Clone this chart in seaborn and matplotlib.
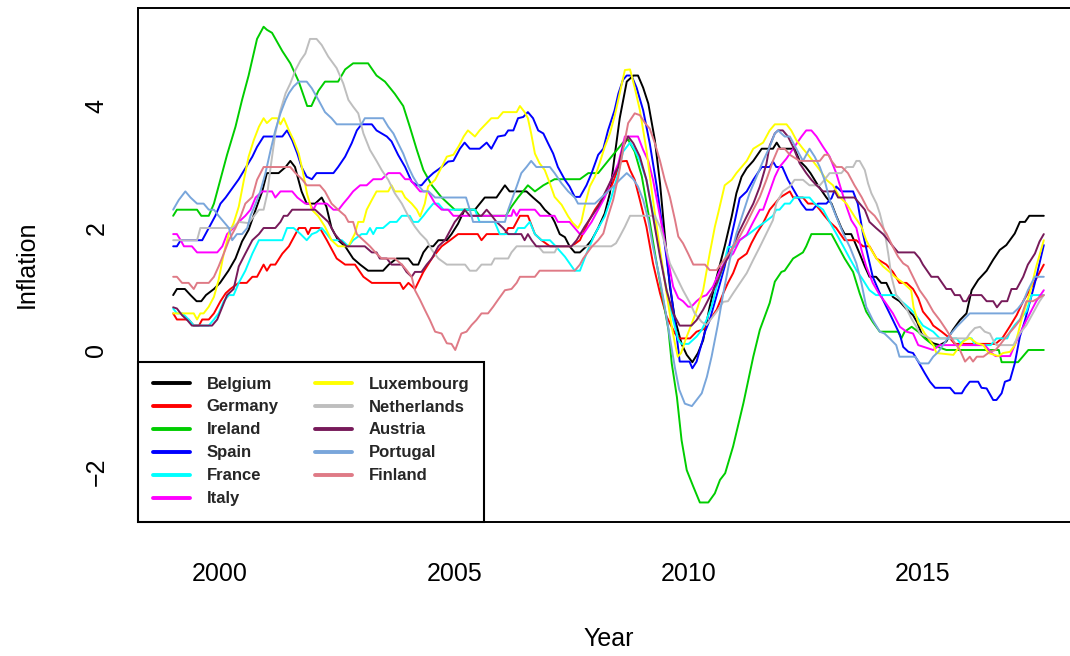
import numpy as np
import pandas as pd
import matplotlib
matplotlib.use("Agg")
import matplotlib.pyplot as plt
from matplotlib.lines import Line2D
import seaborn as sns

# ---- 12-month average HICP inflation, euro-area founding members ----
countries = ["Belgium", "Germany", "Ireland", "Spain", "France", "Italy",
             "Luxembourg", "Netherlands", "Austria", "Portugal", "Finland"]
colours = ["#000000", "#FF0000", "#00CD00", "#0000FF", "#00FFFF", "#FF00FF",
           "#FFFF00", "#BEBEBE", "#771A5A", "#79A6DB", "#DF7A86"]

x_ticks = [2000, 2005, 2010, 2015]
y_ticks = [-2, 0, 2, 4]

belgium = [(1999.0,0.9),(1999.08,1.0),(1999.25,1.0),(1999.37,0.9),(1999.5,0.8),(1999.6,0.8),(1999.7,0.9),
    (1999.87,1.0),(2000.0,1.1),(2000.18,1.3),(2000.33,1.5),(2000.47,1.78),(2000.61,1.97),(2000.76,2.3),
    (2000.9,2.6),(2001.0,2.9),(2001.25,2.9),(2001.4,3.0),(2001.5,3.1),(2001.6,3.0),(2001.74,2.6),
    (2001.85,2.4),(2002.03,2.4),(2002.17,2.5),(2002.27,2.35),(2002.38,2.0),(2002.52,1.8),(2002.67,1.7),
    (2002.84,1.5),(2002.99,1.4),(2003.16,1.3),(2003.48,1.3),(2003.6,1.4),(2003.77,1.5),(2004.02,1.5),
    (2004.12,1.4),(2004.23,1.4),(2004.34,1.6),(2004.44,1.7),(2004.55,1.7),(2004.66,1.8),(2004.84,1.8),
    (2004.94,1.9),(2005.08,2.07),(2005.22,2.3),(2005.44,2.3),(2005.65,2.5),(2005.9,2.5),(2006.08,2.7),
    (2006.18,2.6),(2006.54,2.6),(2006.68,2.5),(2006.83,2.4),(2006.93,2.3),(2007.07,2.2),(2007.14,2.1),
    (2007.25,1.9),(2007.36,1.85),(2007.46,1.7),(2007.57,1.6),(2007.68,1.6),(2007.82,1.7),(2007.93,1.8),
    (2008.07,2.0),(2008.21,2.24),(2008.32,2.57),(2008.42,3.17),(2008.53,3.8),(2008.68,4.4),(2008.82,4.5),
    (2008.92,4.5),(2009.03,4.3),(2009.14,4.04),(2009.28,3.44),(2009.39,2.73),(2009.49,1.9),(2009.6,1.04),
    (2009.71,0.5),(2009.85,0.1),(2009.96,-0.08),(2010.08,-0.2),(2010.2,-0.05),(2010.31,0.16),(2010.45,0.71),
    (2010.6,1.2),(2010.77,1.7),(2010.92,2.19),(2011.02,2.57),(2011.13,2.84),(2011.24,2.98),(2011.38,3.1),
    (2011.56,3.3),(2011.8,3.3),(2011.88,3.4),(2011.96,3.3),(2012.26,3.3),(2012.37,3.1),(2012.5,3.0),
    (2012.6,2.9),(2012.76,2.7),(2012.94,2.5),(2013.05,2.4),(2013.15,2.2),(2013.26,2.0),(2013.33,1.9),
    (2013.47,1.9),(2013.54,1.78),(2013.65,1.58),(2013.76,1.37),(2013.86,1.2),(2014.0,1.2),(2014.11,1.1),
    (2014.22,1.1),(2014.36,0.87),(2014.5,0.8),(2014.64,0.68),(2014.79,0.57),(2014.88,0.45),(2014.97,0.27),
    (2015.08,0.19),(2015.22,0.11),(2015.36,0.08),(2015.5,0.14),(2015.64,0.33),(2015.79,0.49),(2015.93,0.6),
    (2016.04,0.98),(2016.18,1.15),(2016.36,1.3),(2016.5,1.48),(2016.64,1.64),(2016.78,1.72),(2016.96,1.91),
    (2017.07,2.1),(2017.18,2.1),(2017.27,2.2),(2017.58,2.2)]

germany = [(1999.0,0.6),(1999.08,0.5),(1999.33,0.5),(1999.44,0.4),(1999.55,0.4),(1999.62,0.5),(1999.76,0.5),
    (1999.87,0.6),(2000.01,0.8),(2000.12,0.93),(2000.22,1.0),(2000.4,1.1),(2000.57,1.1),(2000.69,1.2),
    (2000.79,1.2),(2000.93,1.4),(2001.0,1.3),(2001.08,1.4),(2001.18,1.4),(2001.33,1.58),(2001.47,1.7),
    (2001.61,1.9),(2001.68,2.0),(2001.82,2.0),(2001.88,1.9),(2001.94,2.0),(2002.13,2.0),(2002.28,1.8),
    (2002.49,1.5),(2002.67,1.4),(2002.88,1.4),(2003.06,1.2),(2003.24,1.1),(2003.84,1.1),(2003.91,1.0),
    (2004.02,1.1),(2004.16,1.0),(2004.34,1.28),(2004.52,1.5),(2004.73,1.7),(2004.91,1.8),(2005.08,1.9),
    (2005.5,1.9),(2005.58,1.8),(2005.69,1.9),(2006.08,1.9),(2006.15,2.0),(2006.26,2.0),(2006.33,2.1),
    (2006.4,2.2),(2006.57,2.2),(2006.72,1.9),(2006.86,1.8),(2007.04,1.7),(2007.5,1.7),(2007.68,1.8),
    (2007.86,2.1),(2008.0,2.3),(2008.18,2.5),(2008.35,2.68),(2008.46,2.9),(2008.53,3.09),(2008.68,3.1),
    (2008.75,2.95),(2008.85,2.79),(2008.96,2.46),(2009.1,2.02),(2009.24,1.42),(2009.39,0.93),(2009.53,0.55),
    (2009.71,0.27),(2009.8,0.19),(2010.03,0.19),(2010.17,0.3),(2010.35,0.35),(2010.45,0.49),(2010.6,0.66),
    (2010.74,0.93),(2010.84,1.1),(2010.95,1.26),(2011.06,1.48),(2011.24,1.58),(2011.34,1.75),(2011.45,1.91),
    (2011.59,2.08),(2011.73,2.3),(2011.95,2.5),(2012.16,2.6),(2012.23,2.5),(2012.44,2.5),(2012.55,2.4),
    (2012.69,2.4),(2012.8,2.3),(2012.9,2.2),(2013.01,2.1),(2013.15,2.0),(2013.33,1.8),(2013.58,1.8),
    (2013.72,1.7),(2013.86,1.7),(2014.01,1.5),(2014.22,1.4),(2014.36,1.28),(2014.5,1.1),(2014.65,1.1),
    (2014.79,1.0),(2014.9,0.85),(2015.0,0.63),(2015.15,0.49),(2015.22,0.4),(2015.4,0.3),(2015.58,0.19),
    (2015.68,0.1),(2016.55,0.1),(2016.7,0.2),(2016.85,0.38),(2017.0,0.57),(2017.14,0.8),(2017.28,0.98),
    (2017.42,1.17),(2017.58,1.4)]

ireland = [(1999.0,2.2),(1999.08,2.3),(1999.51,2.3),(1999.6,2.2),(1999.76,2.2),(1999.87,2.4),(2000.01,2.8),
    (2000.15,3.2),(2000.33,3.66),(2000.47,4.1),(2000.61,4.5),(2000.79,5.1),(2000.93,5.3),(2001.0,5.25),
    (2001.11,5.2),(2001.33,4.9),(2001.5,4.7),(2001.68,4.4),(2001.86,4.0),(2001.95,4.0),(2002.1,4.25),
    (2002.24,4.4),(2002.52,4.4),(2002.67,4.6),(2002.84,4.7),(2003.16,4.7),(2003.34,4.5),(2003.52,4.4),
    (2003.73,4.2),(2003.91,4.0),(2004.05,3.66),(2004.2,3.28),(2004.34,2.95),(2004.52,2.7),(2004.73,2.5),
    (2004.87,2.4),(2005.01,2.3),(2005.44,2.3),(2005.54,2.2),(2006.1,2.2),(2006.22,2.35),(2006.36,2.5),
    (2006.57,2.7),(2006.72,2.6),(2006.9,2.7),(2007.14,2.8),(2007.68,2.8),(2007.86,2.9),(2008.07,2.9),
    (2008.28,3.1),(2008.6,3.4),(2008.71,3.45),(2008.85,3.25),(2009.0,2.85),(2009.15,2.2),(2009.3,1.5),
    (2009.45,0.85),(2009.57,0.33),(2009.64,-0.22),(2009.75,-0.77),(2009.85,-1.48),(2009.96,-1.97),
    (2010.1,-2.24),(2010.24,-2.5),(2010.42,-2.5),(2010.56,-2.35),(2010.67,-2.13),(2010.78,-2.02),
    (2010.95,-1.58),(2011.17,-0.87),(2011.38,-0.11),(2011.52,0.33),(2011.73,0.77),(2011.84,1.12),
    (2011.98,1.28),(2012.05,1.3),(2012.23,1.5),(2012.44,1.6),(2012.51,1.7),(2012.62,1.9),(2013.05,1.9),
    (2013.19,1.7),(2013.33,1.5),(2013.51,1.28),(2013.65,0.93),(2013.79,0.63),(2013.93,0.46),(2014.08,0.3),
    (2014.47,0.3),(2014.54,0.19),(2014.61,0.3),(2014.76,0.38),(2014.9,0.3),(2015.04,0.19),(2015.22,0.08),
    (2015.5,0.0),(2016.62,0.0),(2016.68,-0.2),(2017.03,-0.2),(2017.25,0.0),(2017.58,0.0)]

spain = [(1999.0,1.7),(1999.08,1.7),(1999.16,1.8),(1999.62,1.8),(1999.76,2.0),(1999.9,2.2),(2000.01,2.4),
    (2000.12,2.5),(2000.26,2.65),(2000.4,2.8),(2000.54,2.98),(2000.69,3.17),(2000.79,3.33),(2000.93,3.5),
    (2001.33,3.5),(2001.43,3.6),(2001.54,3.44),(2001.65,3.22),(2001.74,3.0),(2001.85,2.84),(2001.96,2.8),
    (2002.06,2.9),(2002.42,2.9),(2002.52,3.0),(2002.67,3.17),(2002.81,3.39),(2002.92,3.6),(2003.02,3.7),
    (2003.24,3.7),(2003.34,3.6),(2003.45,3.55),(2003.56,3.5),(2003.66,3.42),(2003.8,3.2),(2003.95,3.0),
    (2004.09,2.76),(2004.2,2.7),(2004.3,2.7),(2004.41,2.8),(2004.55,2.9),(2004.73,3.0),(2004.87,3.09),
    (2004.98,3.1),(2005.12,3.3),(2005.22,3.4),(2005.33,3.3),(2005.54,3.3),(2005.69,3.4),(2005.79,3.3),
    (2005.93,3.5),(2006.08,3.52),(2006.15,3.6),(2006.26,3.6),(2006.36,3.8),(2006.47,3.82),(2006.57,3.9),
    (2006.68,3.8),(2006.79,3.6),(2006.9,3.55),(2007.0,3.39),(2007.11,3.22),(2007.21,3.0),(2007.36,2.79),
    (2007.46,2.68),(2007.57,2.51),(2007.68,2.51),(2007.82,2.7),(2007.93,2.9),(2008.07,3.2),(2008.18,3.3),
    (2008.28,3.6),(2008.42,3.93),(2008.5,4.2),(2008.6,4.43),(2008.68,4.5),(2008.78,4.5),(2008.89,4.3),
    (2009.03,3.93),(2009.17,3.39),(2009.32,2.68),(2009.46,1.91),(2009.6,1.09),(2009.74,0.27),
    (2009.81,-0.19),(2010.02,-0.19),(2010.08,-0.3),(2010.17,-0.19),(2010.28,0.11),(2010.35,0.3),
    (2010.45,0.49),(2010.63,0.98),(2010.77,1.37),(2010.88,1.75),(2010.99,2.13),(2011.09,2.49),(2011.24,2.6),
    (2011.38,2.79),(2011.56,3.0),(2011.73,3.0),(2011.8,3.09),(2011.87,3.0),(2012.0,3.0),(2012.12,2.79),
    (2012.26,2.6),(2012.41,2.4),(2012.51,2.3),(2012.65,2.3),(2012.76,2.4),(2012.94,2.4),(2013.05,2.49),
    (2013.15,2.68),(2013.26,2.6),(2013.51,2.6),(2013.61,2.4),(2013.72,1.91),(2013.83,1.53),(2013.93,1.2),
    (2014.08,0.93),(2014.22,0.71),(2014.36,0.49),(2014.51,0.25),(2014.58,0.05),(2014.69,-0.03),
    (2014.79,-0.05),(2014.9,-0.19),(2015.04,-0.38),(2015.15,-0.52),(2015.26,-0.62),(2015.58,-0.62),
    (2015.68,-0.71),(2015.83,-0.71),(2015.9,-0.62),(2016.0,-0.52),(2016.18,-0.52),(2016.25,-0.62),
    (2016.36,-0.63),(2016.5,-0.82),(2016.57,-0.82),(2016.68,-0.71),(2016.75,-0.52),(2016.86,-0.49),
    (2016.96,-0.22),(2017.07,0.22),(2017.18,0.49),(2017.39,1.1),(2017.58,1.72)]

france = [(1999.0,0.68),(1999.08,0.6),(1999.2,0.6),(1999.33,0.5),(1999.44,0.4),(1999.76,0.4),(1999.87,0.5),
    (1999.97,0.6),(2000.08,0.8),(2000.19,0.9),(2000.29,0.9),(2000.4,1.1),(2000.54,1.3),(2000.69,1.58),
    (2000.83,1.8),(2001.33,1.8),(2001.43,2.0),(2001.57,2.0),(2001.72,1.9),(2001.85,1.8),(2001.96,1.9),
    (2002.06,1.93),(2002.17,2.0),(2002.28,1.9),(2002.38,1.8),(2002.6,1.8),(2002.74,1.7),(2002.84,1.8),
    (2003.02,1.9),(2003.13,1.9),(2003.2,2.0),(2003.27,1.9),(2003.34,2.0),(2003.48,2.0),(2003.63,2.1),
    (2003.77,2.1),(2003.88,2.2),(2004.05,2.2),(2004.12,2.1),(2004.23,2.1),(2004.34,2.2),(2004.44,2.3),
    (2004.55,2.4),(2004.66,2.4),(2004.77,2.3),(2005.44,2.3),(2005.54,2.1),(2005.86,2.1),(2005.97,1.9),
    (2006.29,1.9),(2006.36,2.0),(2006.5,2.0),(2006.61,2.1),(2006.72,1.9),(2006.86,1.8),(2007.04,1.8),
    (2007.14,1.72),(2007.36,1.53),(2007.46,1.42),(2007.57,1.3),(2007.68,1.3),(2007.82,1.58),(2008.0,1.9),
    (2008.21,2.19),(2008.35,2.5),(2008.5,2.9),(2008.6,3.25),(2008.75,3.4),(2008.85,3.28),(2008.96,3.1),
    (2009.1,2.79),(2009.24,2.24),(2009.39,1.58),(2009.53,0.98),(2009.67,0.49),(2009.78,0.16),
    (2009.85,0.1),(2010.0,0.1),(2010.17,0.22),(2010.28,0.33),(2010.38,0.49),(2010.49,0.71),(2010.6,1.04),
    (2010.74,1.37),(2010.84,1.69),(2010.99,1.69),(2011.09,1.8),(2011.3,1.91),(2011.45,2.0),(2011.63,2.1),
    (2011.8,2.2),(2011.87,2.3),(2011.94,2.3),(2012.05,2.4),(2012.16,2.4),(2012.26,2.5),(2012.58,2.5),
    (2012.69,2.4),(2012.87,2.3),(2013.01,2.1),(2013.15,1.91),(2013.3,1.7),(2013.44,1.5),(2013.58,1.31),
    (2013.72,1.15),(2013.86,0.98),(2014.0,0.9),(2014.43,0.9),(2014.54,0.8),(2014.72,0.68),(2014.82,0.6),
    (2015.0,0.4),(2015.22,0.3),(2015.36,0.19),(2015.72,0.19),(2015.8,0.11),(2015.93,0.19),(2016.04,0.19),
    (2016.11,0.08),(2016.45,0.08),(2016.57,0.19),(2016.8,0.19),(2016.86,0.3),(2016.96,0.41),
    (2017.07,0.5),(2017.21,0.63),(2017.32,0.9),(2017.58,0.9)]

italy = [(1999.0,1.9),(1999.08,1.9),(1999.16,1.8),(1999.23,1.7),(1999.4,1.7),(1999.51,1.6),(1999.94,1.6),
    (2000.05,1.7),(2000.15,1.9),(2000.29,2.0),(2000.4,2.1),(2000.54,2.2),(2000.65,2.3),(2000.76,2.5),
    (2000.9,2.6),(2001.11,2.6),(2001.18,2.5),(2001.29,2.6),(2001.54,2.6),(2001.65,2.5),(2001.82,2.4),
    (2001.92,2.4),(2001.99,2.3),(2002.06,2.4),(2002.28,2.4),(2002.42,2.3),(2002.53,2.3),(2002.63,2.4),
    (2002.74,2.5),(2002.84,2.6),(2002.99,2.7),(2003.13,2.7),(2003.27,2.8),(2003.45,2.8),(2003.59,2.9),
    (2003.84,2.9),(2003.95,2.8),(2004.05,2.8),(2004.16,2.7),(2004.27,2.6),(2004.44,2.6),(2004.59,2.4),
    (2004.73,2.3),(2004.87,2.3),(2004.98,2.2),(2006.22,2.2),(2006.26,2.3),(2006.33,2.2),(2006.4,2.3),
    (2006.72,2.3),(2006.83,2.2),(2007.14,2.2),(2007.21,2.1),(2007.46,2.1),(2007.57,2.0),(2007.68,1.9),
    (2007.75,1.9),(2007.93,2.1),(2008.07,2.3),(2008.21,2.5),(2008.35,2.79),(2008.5,3.06),(2008.64,3.5),
    (2008.92,3.5),(2009.03,3.28),(2009.14,3.1),(2009.24,2.79),(2009.35,2.35),(2009.46,1.91),(2009.56,1.48),
    (2009.67,1.04),(2009.78,0.85),(2009.88,0.8),(2009.99,0.71),(2010.06,0.71),(2010.17,0.8),(2010.28,0.87),
    (2010.38,0.9),(2010.52,1.04),(2010.67,1.31),(2010.81,1.48),(2010.95,1.58),(2011.09,1.8),(2011.24,1.89),
    (2011.38,2.1),(2011.52,2.3),(2011.59,2.3),(2011.73,2.6),(2011.84,2.84),(2011.94,3.0),(2012.09,3.14),
    (2012.23,3.3),(2012.41,3.5),(2012.51,3.6),(2012.62,3.6),(2012.73,3.5),(2012.87,3.33),(2013.01,3.17),
    (2013.15,2.9),(2013.26,2.62),(2013.37,2.35),(2013.47,2.13),(2013.58,2.0),(2013.69,1.64),(2013.79,1.37),
    (2013.93,1.1),(2014.08,0.9),(2014.18,0.8),(2014.36,0.6),(2014.51,0.38),(2014.65,0.3),(2014.79,0.27),
    (2014.9,0.08),(2015.22,0.0),(2015.36,0.08),(2016.32,0.08),(2016.47,-0.05),(2016.55,-0.1),
    (2016.86,-0.1),(2016.96,0.08),(2017.07,0.27),(2017.21,0.49),(2017.42,0.8),(2017.58,0.98)]

luxembourg = [(1999.0,0.6),(1999.44,0.6),(1999.51,0.5),(1999.58,0.6),(1999.65,0.6),(1999.76,0.71),
    (1999.87,0.87),(1999.97,1.15),(2000.08,1.58),(2000.19,1.91),(2000.29,2.08),(2000.4,2.35),(2000.51,2.79),
    (2000.61,3.17),(2000.72,3.44),(2000.83,3.66),(2000.93,3.8),(2001.0,3.72),(2001.11,3.8),(2001.22,3.8),
    (2001.29,3.7),(2001.36,3.8),(2001.47,3.6),(2001.57,3.44),(2001.68,3.22),(2001.76,2.95),(2001.86,2.55),
    (2001.96,2.3),(2002.1,2.19),(2002.24,2.02),(2002.38,1.8),(2002.52,1.7),(2002.74,1.7),(2002.88,1.91),
    (2002.95,2.1),(2003.06,2.1),(2003.13,2.3),(2003.24,2.46),(2003.34,2.6),(2003.59,2.6),(2003.66,2.7),
    (2003.73,2.6),(2003.88,2.6),(2003.95,2.5),(2004.09,2.4),(2004.2,2.3),(2004.27,2.19),(2004.37,2.4),
    (2004.44,2.68),(2004.59,2.79),(2004.73,3.0),(2004.84,3.17),(2004.98,3.2),(2005.1,3.35),(2005.2,3.5),
    (2005.29,3.6),(2005.44,3.5),(2005.54,3.6),(2005.69,3.72),(2005.79,3.8),(2005.93,3.8),(2006.04,3.9),
    (2006.33,3.9),(2006.4,4.0),(2006.5,3.9),(2006.57,3.8),(2006.64,3.55),(2006.72,3.22),(2006.82,3.06),
    (2006.93,2.95),(2007.04,2.73),(2007.14,2.51),(2007.29,2.38),(2007.43,2.19),(2007.53,2.08),(2007.64,2.0),
    (2007.71,2.1),(2007.78,2.35),(2007.89,2.68),(2008.0,2.84),(2008.1,3.06),(2008.21,3.33),(2008.32,3.55),
    (2008.42,3.83),(2008.53,4.21),(2008.64,4.59),(2008.75,4.6),(2008.85,4.3),(2008.96,3.93),(2009.1,3.28),
    (2009.24,2.46),(2009.39,1.64),(2009.53,0.93),(2009.64,0.38),(2009.71,0.1),(2009.77,-0.11),
    (2009.84,-0.05),(2009.93,0.16),(2010.0,0.3),(2010.15,0.6),(2010.31,0.98),(2010.45,1.58),(2010.56,2.02),
    (2010.63,2.24),(2010.77,2.7),(2010.92,2.79),(2011.02,2.9),(2011.13,3.0),(2011.24,3.1),(2011.38,3.3),
    (2011.59,3.4),(2011.73,3.6),(2011.84,3.7),(2012.09,3.7),(2012.19,3.6),(2012.3,3.44),(2012.44,3.3),
    (2012.55,3.2),(2012.65,3.1),(2012.8,2.95),(2012.94,2.79),(2013.08,2.7),(2013.22,2.51),(2013.37,2.4),
    (2013.54,2.19),(2013.69,2.02),(2013.79,1.8),(2013.9,1.64),(2014.01,1.5),(2014.15,1.37),(2014.29,1.28),
    (2014.4,1.2),(2014.58,1.1),(2014.75,0.98),(2014.8,0.7),(2014.9,0.45),(2015.04,0.27),(2015.22,0.08),
    (2015.29,-0.05),(2015.65,-0.08),(2015.86,0.14),(2016.0,0.2),(2016.15,0.11),(2016.29,0.08),
    (2016.4,-0.05),(2016.61,-0.1),(2016.71,-0.05),(2016.86,-0.03),(2016.96,0.08),(2017.03,0.27),
    (2017.1,0.49),(2017.28,0.93),(2017.42,1.37),(2017.58,1.8)]

netherlands = [(1999.0,1.8),(1999.51,1.8),(1999.58,2.0),(2000.26,2.0),(2000.4,2.1),(2000.61,2.08),
    (2000.72,2.19),(2000.83,2.3),(2000.93,2.3),(2001.01,2.57),(2001.08,3.0),(2001.18,3.55),(2001.29,3.93),
    (2001.4,4.21),(2001.5,4.37),(2001.61,4.59),(2001.72,4.75),(2001.82,4.86),(2001.92,5.1),(2002.06,5.1),
    (2002.17,5.0),(2002.31,4.81),(2002.49,4.62),(2002.63,4.37),(2002.74,4.1),(2002.84,3.99),(2002.95,3.88),
    (2003.06,3.55),(2003.2,3.28),(2003.34,3.1),(2003.45,2.95),(2003.59,2.79),(2003.73,2.57),(2003.88,2.4),
    (2004.02,2.19),(2004.16,2.02),(2004.27,1.91),(2004.41,1.8),(2004.52,1.64),(2004.66,1.5),(2004.84,1.4),
    (2005.23,1.4),(2005.33,1.3),(2005.47,1.3),(2005.58,1.4),(2005.79,1.4),(2005.86,1.5),(2006.15,1.5),
    (2006.22,1.6),(2006.33,1.7),(2006.79,1.7),(2006.9,1.6),(2007.14,1.6),(2007.21,1.7),(2008.35,1.7),
    (2008.45,1.75),(2008.53,1.86),(2008.64,2.02),(2008.75,2.2),(2009.28,2.2),(2009.39,2.02),(2009.49,1.75),
    (2009.6,1.42),(2009.74,1.2),(2009.88,0.98),(2010.03,0.77),(2010.13,0.6),(2010.28,0.46),(2010.38,0.41),
    (2010.49,0.52),(2010.6,0.63),(2010.74,0.79),(2010.84,0.8),(2010.95,0.93),(2011.09,1.09),(2011.24,1.26),
    (2011.38,1.48),(2011.52,1.69),(2011.66,1.91),(2011.8,2.13),(2011.87,2.4),(2012.01,2.6),(2012.16,2.68),
    (2012.26,2.79),(2012.44,2.79),(2012.58,2.7),(2012.8,2.7),(2012.9,2.79),(2013.01,2.9),(2013.26,2.9),
    (2013.37,3.0),(2013.51,3.0),(2013.58,3.1),(2013.65,3.1),(2013.76,2.95),(2013.83,2.73),(2013.9,2.57),
    (2014.01,2.4),(2014.08,2.24),(2014.19,1.91),(2014.26,1.58),(2014.33,1.2),(2014.43,0.9),(2014.54,0.8),
    (2014.65,0.68),(2014.75,0.52),(2014.86,0.38),(2014.94,0.27),(2015.15,0.19),(2015.93,0.19),(2016.0,0.27),
    (2016.11,0.36),(2016.22,0.38),(2016.32,0.3),(2016.43,0.27),(2016.5,0.16),(2016.57,0.08),(2016.93,0.08),
    (2017.07,0.27),(2017.21,0.41),(2017.39,0.66),(2017.49,0.8),(2017.58,0.9)]

austria = [(1999.0,0.7),(1999.08,0.68),(1999.19,0.57),(1999.3,0.49),(1999.4,0.4),(1999.83,0.4),(1999.94,0.5),
    (2000.05,0.71),(2000.15,0.9),(2000.29,1.0),(2000.4,1.37),(2000.54,1.58),(2000.69,1.8),(2000.83,1.9),
    (2000.93,2.0),(2001.18,2.0),(2001.29,2.1),(2001.36,2.2),(2001.44,2.2),(2001.54,2.3),(2002.03,2.3),
    (2002.17,2.2),(2002.31,2.1),(2002.45,1.9),(2002.56,1.8),(2002.7,1.7),(2003.09,1.7),(2003.24,1.6),
    (2003.34,1.6),(2003.41,1.5),(2003.56,1.5),(2003.66,1.4),(2003.88,1.4),(2003.98,1.28),(2004.09,1.2),
    (2004.16,1.28),(2004.3,1.28),(2004.41,1.4),(2004.52,1.5),(2004.66,1.7),(2004.8,1.8),(2004.94,2.0),
    (2005.01,2.1),(2005.12,2.2),(2005.22,2.3),(2005.33,2.2),(2005.58,2.2),(2005.69,2.3),(2005.8,2.2),
    (2005.9,2.1),(2006.04,2.0),(2006.15,1.9),(2006.43,1.9),(2006.5,1.8),(2006.57,1.9),(2006.65,1.8),
    (2006.75,1.7),(2007.5,1.7),(2007.61,1.8),(2007.78,2.02),(2007.93,2.19),(2008.07,2.35),(2008.21,2.57),
    (2008.35,2.79),(2008.5,3.0),(2008.6,3.33),(2008.71,3.5),(2008.82,3.39),(2008.96,3.17),(2009.1,2.79),
    (2009.24,2.19),(2009.39,1.53),(2009.53,0.98),(2009.67,0.6),(2009.81,0.4),(2010.06,0.4),(2010.17,0.49),
    (2010.31,0.66),(2010.45,0.87),(2010.6,1.09),(2010.74,1.37),(2010.92,1.64),(2011.06,1.91),(2011.24,2.19),
    (2011.38,2.4),(2011.52,2.68),(2011.66,3.05),(2011.73,3.35),(2011.84,3.55),(2011.91,3.6),(2012.01,3.6),
    (2012.12,3.5),(2012.23,3.33),(2012.37,3.06),(2012.51,2.9),(2012.62,2.79),(2012.73,2.7),(2012.87,2.6),
    (2013.12,2.6),(2013.19,2.5),(2013.54,2.5),(2013.65,2.4),(2013.76,2.3),(2013.86,2.1),(2014.0,2.0),
    (2014.15,1.9),(2014.26,1.8),(2014.36,1.7),(2014.47,1.6),(2014.82,1.6),(2014.93,1.5),(2015.0,1.4),
    (2015.18,1.2),(2015.32,1.2),(2015.5,1.0),(2015.6,1.0),(2015.68,0.9),(2015.79,0.9),(2015.86,0.8),
    (2015.93,0.8),(2016.0,0.9),(2016.25,0.9),(2016.36,0.8),(2016.5,0.8),(2016.58,0.7),(2016.68,0.8),
    (2016.8,0.8),(2016.89,1.0),(2017.0,1.0),(2017.14,1.2),(2017.24,1.4),(2017.39,1.58),(2017.49,1.78),
    (2017.58,1.9)]

portugal = [(1999.0,2.3),(1999.12,2.46),(1999.26,2.6),(1999.37,2.5),(1999.51,2.4),(1999.65,2.4),(1999.76,2.3),
    (1999.87,2.3),(1999.97,2.2),(2000.08,2.1),(2000.19,2.0),(2000.26,1.8),(2000.36,1.9),(2000.47,1.9),
    (2000.58,2.0),(2000.65,2.2),(2000.76,2.4),(2000.86,2.6),(2000.97,2.9),(2001.08,3.28),(2001.18,3.6),
    (2001.29,3.88),(2001.4,4.1),(2001.47,4.21),(2001.57,4.32),(2001.68,4.4),(2001.85,4.4),(2001.96,4.29),
    (2002.1,4.1),(2002.24,3.9),(2002.38,3.8),(2002.49,3.7),(2003.02,3.7),(2003.09,3.8),(2003.48,3.8),
    (2003.59,3.66),(2003.7,3.55),(2003.8,3.39),(2003.91,3.22),(2004.02,3.0),(2004.12,2.84),(2004.23,2.7),
    (2004.34,2.6),(2004.45,2.6),(2004.59,2.5),(2005.25,2.5),(2005.33,2.3),(2005.4,2.1),(2006.08,2.1),
    (2006.15,2.3),(2006.33,2.68),(2006.43,2.9),(2006.54,3.0),(2006.64,3.1),(2006.75,3.0),(2007.04,3.0),
    (2007.14,2.9),(2007.29,2.73),(2007.43,2.6),(2007.57,2.5),(2007.64,2.4),(2008.0,2.4),(2008.14,2.5),
    (2008.28,2.6),(2008.42,2.7),(2008.53,2.79),(2008.68,2.9),(2008.82,2.8),(2008.92,2.68),(2009.03,2.46),
    (2009.14,2.13),(2009.24,1.69),(2009.39,1.15),(2009.49,0.71),(2009.6,0.2),(2009.71,-0.3),(2009.8,-0.65),
    (2009.92,-0.88),(2010.07,-0.92),(2010.17,-0.82),(2010.28,-0.71),(2010.39,-0.44),(2010.49,-0.11),
    (2010.56,0.16),(2010.62,0.4),(2010.74,0.93),(2010.88,1.48),(2011.02,1.91),(2011.16,2.24),(2011.3,2.57),
    (2011.45,2.84),(2011.59,3.1),(2011.73,3.33),(2011.84,3.55),(2011.91,3.6),(2011.98,3.55),(2012.05,3.5),
    (2012.16,3.5),(2012.3,3.3),(2012.44,3.1),(2012.58,3.3),(2012.69,3.17),(2012.8,3.0),(2012.9,2.79),
    (2013.01,2.46),(2013.15,2.19),(2013.3,1.91),(2013.44,1.69),(2013.58,1.42),(2013.69,1.09),(2013.79,0.71),
    (2013.93,0.49),(2014.08,0.3),(2014.18,0.27),(2014.29,0.19),(2014.43,0.08),(2014.5,-0.11),(2014.83,-0.11),
    (2014.94,-0.22),(2015.12,-0.22),(2015.22,-0.11),(2015.33,-0.03),(2015.43,0.08),(2015.58,0.25),
    (2015.72,0.38),(2015.86,0.49),(2016.0,0.6),(2016.92,0.6),(2017.03,0.68),(2017.14,0.79),(2017.24,0.98),
    (2017.39,1.2),(2017.58,1.2)]

finland = [(1999.0,1.2),(1999.08,1.2),(1999.19,1.1),(1999.33,1.1),(1999.44,1.0),(1999.51,1.1),(1999.76,1.1),
    (1999.87,1.2),(1999.97,1.37),(2000.08,1.58),(2000.19,1.8),(2000.33,2.0),(2000.44,2.19),(2000.54,2.4),
    (2000.69,2.51),(2000.79,2.79),(2000.93,3.0),(2001.5,3.0),(2001.61,2.9),(2001.75,2.8),(2001.85,2.7),
    (2002.13,2.7),(2002.24,2.6),(2002.38,2.4),(2002.52,2.3),(2002.67,2.2),(2002.74,2.1),(2002.84,2.1),
    (2002.92,1.9),(2003.06,1.8),(2003.2,1.7),(2003.34,1.58),(2003.45,1.5),(2003.73,1.5),(2003.88,1.4),
    (2003.98,1.31),(2004.09,1.2),(2004.16,0.98),(2004.27,0.82),(2004.37,0.66),(2004.48,0.49),(2004.59,0.3),
    (2004.73,0.27),(2004.84,0.11),(2004.94,0.1),(2005.02,0.0),(2005.15,0.27),(2005.26,0.3),(2005.37,0.41),
    (2005.47,0.49),(2005.58,0.6),(2005.72,0.6),(2005.83,0.71),(2005.93,0.82),(2006.08,0.98),(2006.22,1.0),
    (2006.33,1.1),(2006.4,1.2),(2006.72,1.2),(2006.82,1.3),(2007.57,1.3),(2007.68,1.4),(2007.75,1.5),
    (2007.93,1.69),(2008.07,1.8),(2008.18,1.91),(2008.28,2.19),(2008.39,2.46),(2008.5,2.84),(2008.6,3.28),
    (2008.71,3.72),(2008.85,3.88),(2008.96,3.85),(2009.07,3.72),(2009.17,3.63),(2009.28,3.39),(2009.39,3.1),
    (2009.49,2.79),(2009.6,2.51),(2009.71,2.13),(2009.78,1.86),(2009.88,1.75),(2009.99,1.58),(2010.1,1.4),
    (2010.35,1.4),(2010.45,1.31),(2010.6,1.31),(2010.7,1.42),(2010.81,1.53),(2010.95,1.69),(2011.09,1.86),
    (2011.24,2.08),(2011.38,2.3),(2011.52,2.51),(2011.66,2.79),(2011.8,3.1),(2011.91,3.3),(2012.05,3.3),
    (2012.16,3.2),(2012.37,3.1),(2012.8,3.1),(2012.9,3.2),(2012.98,3.2),(2013.05,3.1),(2013.15,3.0),
    (2013.27,3.0),(2013.4,2.9),(2013.54,2.7),(2013.69,2.51),(2013.83,2.3),(2013.97,2.2),(2014.08,2.08),
    (2014.22,1.91),(2014.36,1.69),(2014.47,1.53),(2014.58,1.42),(2014.68,1.37),(2014.79,1.2),(2014.93,0.98),
    (2015.08,0.82),(2015.22,0.63),(2015.36,0.49),(2015.5,0.33),(2015.64,0.16),(2015.79,0.0),(2015.9,-0.19),
    (2016.0,-0.11),(2016.07,-0.19),(2016.15,-0.11),(2016.29,-0.11),(2016.43,-0.03),(2016.55,0.0),
    (2016.64,0.08),(2016.78,0.22),(2016.96,0.38),(2017.07,0.49),(2017.21,0.8),(2017.35,0.8),(2017.58,0.9)]

series = [belgium, germany, ireland, spain, france, italy,
          luxembourg, netherlands, austria, portugal, finland]

# ---- long-form table for seaborn ----
frames = []
for name, pts in zip(countries, series):
    arr = np.asarray(pts, dtype=float)
    frames.append(pd.DataFrame({"Year": arr[:, 0], "Inflation": arr[:, 1], "Country": name}))
df = pd.concat(frames, ignore_index=True)

sns.set_theme(style="white")
plt.rcParams["font.family"] = ["Liberation Sans", "DejaVu Sans"]

W, H = 1070, 656
fig = plt.figure(figsize=(W / 100, H / 100), dpi=100)
left_px, right_px, top_px, bottom_px = 138.3, 1079.6, 7.7, 521.5
ax = fig.add_axes([left_px / W, 1 - bottom_px / H,
                   (right_px - left_px) / W, (bottom_px - top_px) / H])

sns.lineplot(data=df, x="Year", y="Inflation", hue="Country", hue_order=countries,
             palette=dict(zip(countries, colours)), estimator=None, sort=True,
             linewidth=1.4, legend=False, ax=ax)

ax.set_xlim(1998.256, 2018.344)
ax.set_ylim(-2.812, 5.612)
ax.set_xticks(x_ticks)
ax.set_yticks(y_ticks)
ax.set_xticklabels([str(t) for t in x_ticks])
ax.set_yticklabels(["\u22122" if t < 0 else str(t) for t in y_ticks])

for s in ax.spines.values():
    s.set_color("black")
    s.set_linewidth(1.4)

ax.tick_params(axis="both", which="major", direction="out", length=11.5, width=1.0,
               color="black", labelsize=18, labelcolor="black")
ax.tick_params(axis="x", pad=18)
ax.tick_params(axis="y", pad=10)
for lab in ax.get_yticklabels():
    lab.set_rotation(90)
    lab.set_verticalalignment("center")

ax.set_xlabel("Year", fontsize=18, labelpad=29, color="black")
ax.set_ylabel("Inflation", fontsize=18, labelpad=33, color="black")

handles = [Line2D([], [], color=c, linewidth=2.8) for c in colours]
leg = ax.legend(handles, countries, loc="lower left", bbox_to_anchor=(0, 0), ncol=2,
                frameon=True, fancybox=False, framealpha=1, edgecolor="black",
                borderaxespad=0, prop={"weight": "bold", "size": 12},
                handlelength=2.2, handletextpad=1.0, columnspacing=2.2,
                labelspacing=0.48, borderpad=0.9)
leg.get_frame().set_linewidth(1.5)

fig.savefig("out.png", dpi=100, facecolor="white")
